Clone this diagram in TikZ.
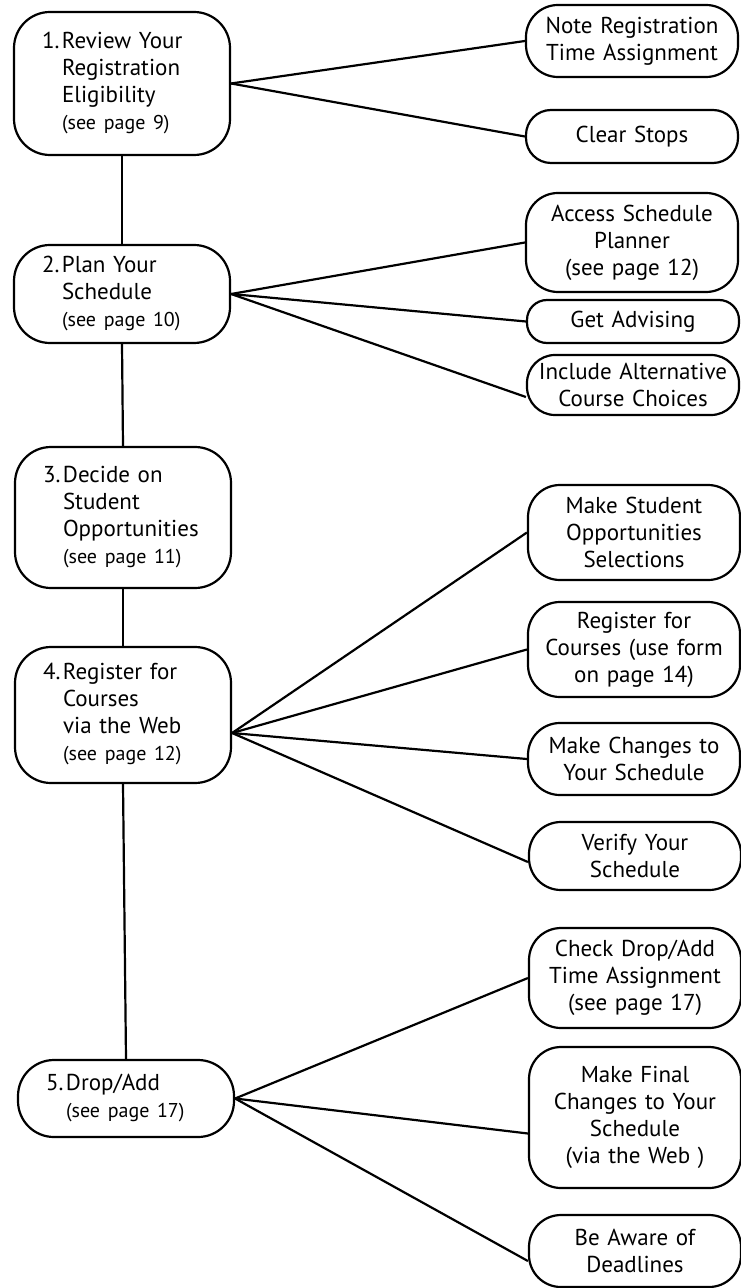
\documentclass[tikz,border=0pt]{standalone}
\usepackage{fontspec}
\setmainfont{PT Sans}

\newcommand{\steptext}[2]{\makebox[10pt][l]{#1}\begin{tabular}[t]{@{}l@{}}#2\end{tabular}}
\newcommand{\seepage}[1]{{\fontsize{10}{13.5}\selectfont (see page #1)}}

\begin{document}
\begin{tikzpicture}[x=0.5pt,y=-0.5pt,
  stepbox/.style={draw,line width=1.1pt,rounded corners=18pt,text width=80pt,
    inner xsep=14pt,align=left,font=\fontsize{11.5}{13.5}\selectfont},
  taskbox/.style={draw,line width=1.1pt,rounded corners=16pt,text width=100pt,
    inner xsep=3pt,align=center,font=\fontsize{11.5}{13.5}\selectfont},
  link/.style={line width=1.1pt}]
  \useasboundingbox (0,0) rectangle (740,1288);

  % main steps
  \node[stepbox,minimum height=71.5pt] (s1) at (122,83.5)
    {\steptext{1.}{Review Your\\Registration\\Eligibility\\\seepage{9}}};
  \node[stepbox,minimum height=49pt] (s2) at (122,294)
    {\steptext{2.}{Plan Your\\Schedule\\\seepage{10}}};
  \node[stepbox,minimum height=70.5pt] (s3) at (123,517.5)
    {\steptext{3.}{Decide on\\Student\\Opportunities\\\seepage{11}}};
  \node[stepbox,minimum height=68pt] (s4) at (123,715)
    {\steptext{4.}{Register for\\Courses\\via the Web\\\seepage{12}}};
  \node[stepbox,minimum height=38.5pt] (s5) at (126,1098.5)
    {\steptext{5.}{Drop/Add\\\seepage{17}}};

  \draw[link] (s1.south) -- (s2.north);
  \draw[link] (s2.south) -- (s3.north);
  \draw[link] (s3.south) -- (s4.north);
  \draw[link] (s4.south) -- (s5.north);

  % tasks of each step
  \node[taskbox,minimum height=36pt] (r11) at (632,41) {Note Registration\\Time Assignment};
  \node[taskbox,minimum height=26.5pt,rounded corners=12.5pt] (r12) at (632,136.5) {Clear Stops};

  \node[taskbox,minimum height=49.5pt] (r21) at (632,242.5) {Access Schedule\\Planner\\(see page 12)};
  \node[taskbox,minimum height=21.5pt,rounded corners=10pt] (r22) at (633,321.5) {Get Advising};
  \node[taskbox,minimum height=30pt,rounded corners=14pt] (r23) at (633,385) {Include Alternative\\Course Choices};

  \node[taskbox,minimum height=47.5pt] (r41) at (634,532.5) {Make Student\\Opportunities\\Selections};
  \node[taskbox,minimum height=47.5pt] (r42) at (634,649.5) {Register for\\Courses (use form\\on page 14)};
  \node[taskbox,minimum height=36pt] (r43) at (634,759) {Make Changes to\\Your Schedule};
  \node[taskbox,minimum height=34pt] (r44) at (635,856) {Verify Your\\Schedule};

  \node[taskbox,minimum height=50pt] (r51) at (635,978) {Check Drop/Add\\Time Assignment\\(see page 17)};
  \node[taskbox,minimum height=70.5pt] (r52) at (635,1117.5) {Make Final\\Changes to Your\\Schedule\\(via the Web )};
  \node[taskbox,minimum height=36pt] (r53) at (635,1251) {Be Aware of\\Deadlines};

  \draw[link] (s1.east) -- (r11.west);
  \draw[link] (s1.east) -- (r12.west);

  \draw[link] (s2.east) -- (r21.west);
  \draw[link] (s2.east) -- (r22.west);
  \draw[link] (s2.east) -- ([yshift=-6pt]r23.west);

  \draw[link] ([yshift=-9pt]s4.east) -- (r41.west);
  \draw[link] ([yshift=-9pt]s4.east) -- (r42.west);
  \draw[link] ([yshift=-9pt]s4.east) -- (r43.west);
  \draw[link] ([yshift=-9pt]s4.east) -- ([yshift=-3pt]r44.west);

  \draw[link] (s5.east) -- (r51.west);
  \draw[link] (s5.east) -- ([yshift=-8pt]r52.west);
  \draw[link] (s5.east) -- ([yshift=-5pt]r53.west);
\end{tikzpicture}
\end{document}
